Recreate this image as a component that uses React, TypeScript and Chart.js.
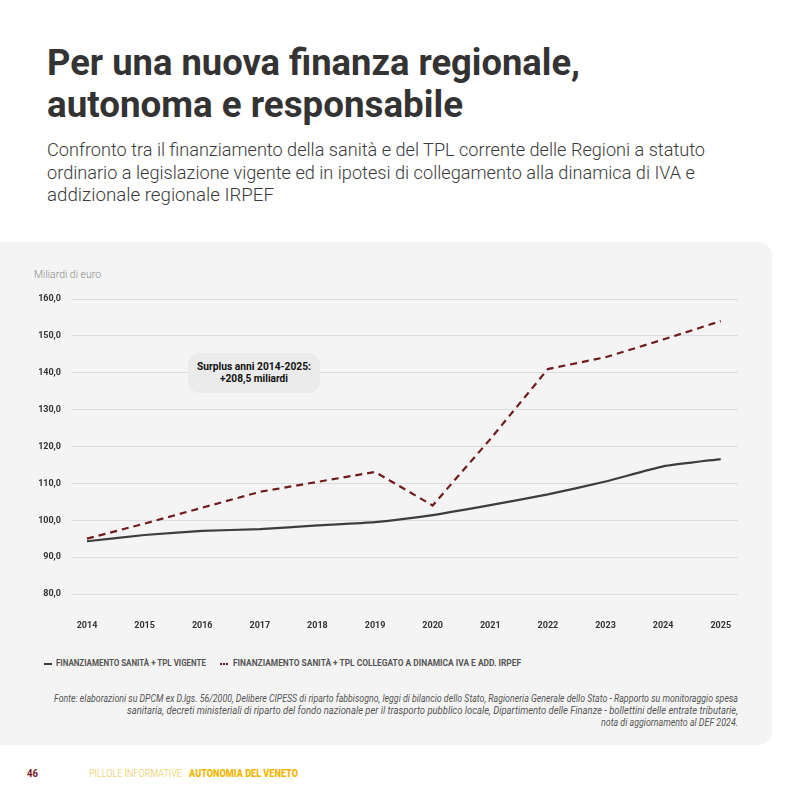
import React, { useEffect, useLayoutEffect, useRef } from "react";
import { Chart, registerables } from "chart.js";

Chart.register(...registerables);

const years = [2014, 2015, 2016, 2017, 2018, 2019, 2020, 2021, 2022, 2023, 2024, 2025];
const vigente = [94.3, 96.0, 97.1, 97.6, 98.6, 99.5, 101.4, 104.1, 107.0, 110.5, 114.6, 116.6];
const collegato = [95.0, 99.1, 103.4, 107.7, 110.4, 113.1, 104.0, 122.0, 141.0, 144.2, 149.0, 154.0];
const yTicks = [80, 90, 100, 110, 120, 130, 140, 150, 160];
const seriesNames = [
  "FINANZIAMENTO SANITÀ + TPL VIGENTE",
  "FINANZIAMENTO SANITÀ + TPL COLLEGATO A DINAMICA IVA E ADD. IRPEF",
];

const FONT = "Roboto, 'Open Sans', sans-serif";

type FitProps = {
  text: string;
  x: number;
  baseline: number;
  size: number;
  width: number;
  weight?: number;
  italic?: boolean;
  color?: string;
};

// one line of real text, horizontally fitted to the width it has in the reference
function Fit({ text, x, baseline, size, width, weight = 400, italic = false, color = "#333" }: FitProps) {
  const ref = useRef<HTMLSpanElement | null>(null);
  useLayoutEffect(() => {
    const el = ref.current;
    if (!el) return;
    el.style.transform = "none";
    const w = el.getBoundingClientRect().width;
    if (w > 0) el.style.transform = `scaleX(${width / w})`;
  });
  const L = Math.round(size * 1.172 * 100) / 100;
  const top = baseline - 0.928 * size;
  return (
    <span
      ref={ref}
      style={{
        position: "absolute",
        left: x,
        top,
        display: "inline-block",
        whiteSpace: "nowrap",
        fontFamily: FONT,
        fontSize: size,
        lineHeight: `${L}px`,
        fontWeight: weight,
        fontStyle: italic ? "italic" : "normal",
        color,
        transformOrigin: "0 0",
      }}
    >
      {text}
    </span>
  );
}

export default function App() {
  const ref = useRef<HTMLCanvasElement | null>(null);

  useEffect(() => {
    if (!ref.current) return;
    const chart = new Chart(ref.current, {
      type: "line",
      data: {
        datasets: [
          {
            label: seriesNames[0],
            data: years.map((y, i) => ({ x: y, y: vigente[i] })),
            borderColor: "#3d3d3d",
            borderWidth: 2.2,
            pointRadius: 0,
            tension: 0.15,
            fill: false,
          },
          {
            label: seriesNames[1],
            data: years.map((y, i) => ({ x: y, y: collegato[i] })),
            borderColor: "#6e1c1c",
            borderWidth: 2.2,
            borderDash: [7, 5],
            pointRadius: 0,
            tension: 0,
            fill: false,
          },
        ],
      },
      options: {
        animation: false,
        responsive: false,
        maintainAspectRatio: false,
        layout: { padding: { left: 0, right: 34, top: 19, bottom: 0 } },
        plugins: { legend: { display: false }, tooltip: { enabled: false } },
        scales: {
          x: {
            type: "linear",
            min: 2013.74,
            max: 2025.3,
            afterBuildTicks: (scale: any) => {
              scale.ticks = years.map((v) => ({ value: v }));
            },
            afterFit: (scale: any) => {
              scale.height = 40;
            },
            grid: { display: false, drawTicks: false },
            border: { display: false },
            ticks: {
              padding: 26,
              autoSkip: false,
              maxRotation: 0,
              color: "#333",
              font: { family: FONT, size: 9, weight: "bold" },
              callback: (v: any) => String(v),
            },
          },
          y: {
            min: 80,
            max: 160,
            afterBuildTicks: (scale: any) => {
              scale.ticks = yTicks.map((v) => ({ value: v }));
            },
            afterFit: (scale: any) => {
              scale.width = 72;
            },
            grid: { color: "#dcdcdc", lineWidth: 1, drawTicks: false },
            border: { display: false },
            ticks: {
              padding: 11,
              color: "#333",
              font: { family: FONT, size: 9, weight: "bold" },
              callback: (v: any) => Number(v).toFixed(1).replace(".", ","),
            },
          },
        },
      },
    });
    return () => chart.destroy();
  }, []);

  return (
    <div
      style={{
        position: "fixed",
        left: 0,
        top: 0,
        width: 800,
        height: 800,
        background: "#ffffff",
        overflow: "hidden",
        fontFamily: FONT,
      }}
    >
      <Fit text="Per una nuova finanza regionale," x={47} baseline={75} size={36} width={533} weight={700} color="#333333" />
      <Fit text="autonoma e responsabile" x={47} baseline={117} size={36} width={416} weight={700} color="#333333" />

      <Fit
        text="Confronto tra il finanziamento della sanità e del TPL corrente delle Regioni a statuto"
        x={47}
        baseline={156.7}
        size={19}
        width={658}
        weight={300}
        color="#3a3a3a"
      />
      <Fit
        text="ordinario a legislazione vigente ed in ipotesi di collegamento alla dinamica di IVA e"
        x={47}
        baseline={179.3}
        size={19}
        width={648}
        weight={300}
        color="#3a3a3a"
      />
      <Fit text="addizionale regionale IRPEF" x={47} baseline={201.7} size={19} width={227} weight={300} color="#3a3a3a" />

      <div
        style={{
          position: "absolute",
          left: 0,
          top: 242,
          width: 772,
          height: 503,
          background: "#f4f4f4",
          borderRadius: "0 14px 14px 0",
        }}
      />

      <Fit text="Miliardi di euro" x={34} baseline={279} size={11} width={67} weight={300} color="#8a8a8a" />

      <canvas
        ref={ref}
        width={772}
        height={354}
        style={{ position: "absolute", left: 0, top: 280, width: 772, height: 354 }}
      />

      <div
        style={{
          position: "absolute",
          left: 188,
          top: 353,
          width: 132,
          height: 40,
          background: "#ebebeb",
          borderRadius: 12,
        }}
      />
      <Fit text="Surplus anni 2014-2025:" x={197} baseline={371} size={10.5} width={114} weight={700} color="#111" />
      <Fit text="+208,5 miliardi" x={220} baseline={382.5} size={10.5} width={68} weight={700} color="#111" />

      <div style={{ position: "absolute", left: 44, top: 663, width: 8, height: 2, background: "#3d3d3d" }} />
      <Fit text={seriesNames[0]} x={56} baseline={667} size={8.5} width={150} weight={700} color="#555" />
      <div
        style={{
          position: "absolute",
          left: 220,
          top: 663,
          width: 8,
          height: 0,
          borderTop: "2px dotted #6e1c1c",
        }}
      />
      <Fit text={seriesNames[1]} x={233} baseline={667} size={8.5} width={288} weight={700} color="#555" />

      <Fit
        text="Fonte: elaborazioni su DPCM ex D.lgs. 56/2000, Delibere CIPESS di riparto fabbisogno, leggi di bilancio dello Stato, Ragioneria Generale dello Stato - Rapporto su monitoraggio spesa"
        x={54}
        baseline={702}
        size={10}
        width={684}
        italic
        color="#555"
      />
      <Fit
        text="sanitaria, decreti ministeriali di riparto del fondo nazionale per il trasporto pubblico locale, Dipartimento delle Finanze - bollettini delle entrate tributarie,"
        x={127}
        baseline={714}
        size={10}
        width={611}
        italic
        color="#555"
      />
      <Fit text="nota di aggiornamento al DEF 2024." x={601} baseline={726} size={10} width={137} italic color="#555" />

      <Fit text="46" x={27} baseline={777.5} size={10} width={11} weight={700} color="#7a1a1a" />
      <Fit text="PILLOLE INFORMATIVE" x={89} baseline={777.5} size={10} width={93} weight={300} color="#e8c54a" />
      <Fit text="AUTONOMIA DEL VENETO" x={189} baseline={777.5} size={10} width={109} weight={900} color="#f2b705" />
    </div>
  );
}
